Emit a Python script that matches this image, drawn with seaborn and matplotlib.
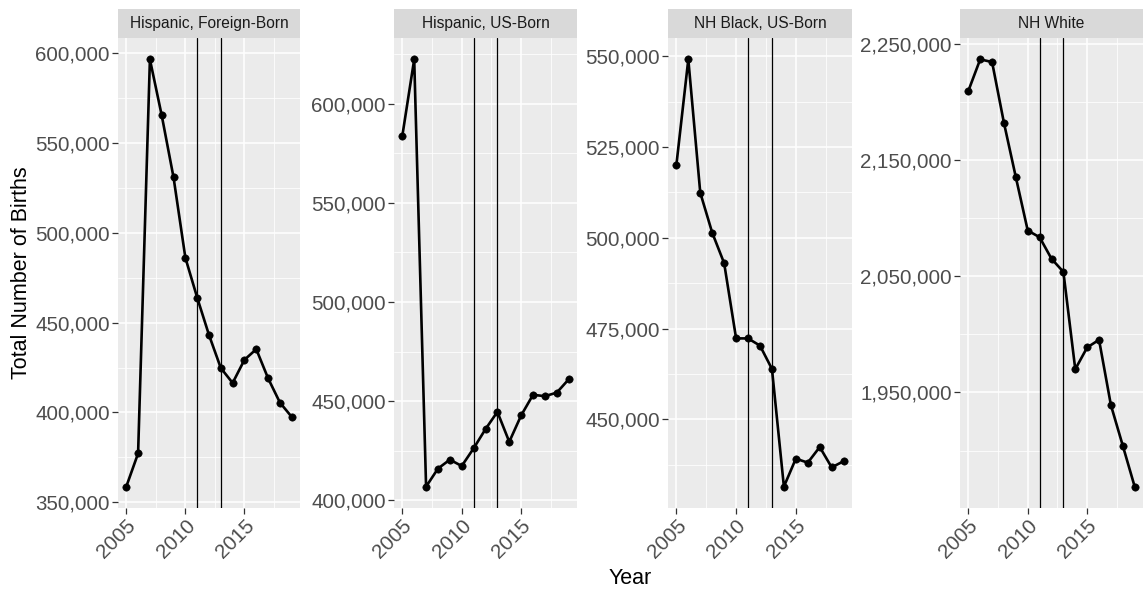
import matplotlib
matplotlib.use("Agg")
import matplotlib.pyplot as plt
from matplotlib.ticker import FuncFormatter, FixedLocator
import seaborn as sns
import pandas as pd

# Annual births by maternal race/ethnicity and nativity
years = list(range(2005, 2020))
hisp_foreign = [358700, 377200, 596500, 565300, 530800, 486100, 463900, 443100,
                424700, 416400, 429300, 435200, 419000, 405500, 397500]
hisp_us = [583700, 622300, 406900, 416000, 420500, 417300, 426200, 435900,
           444600, 429500, 442800, 453200, 452500, 454300, 461000]
nh_black = [520000, 549100, 512400, 501400, 493000, 472300, 472300, 470300,
            463900, 431500, 439200, 438100, 442400, 436800, 438500]
nh_white = [2209300, 2236500, 2234200, 2181800, 2135100, 2089300, 2083500, 2065000,
            2053700, 1970000, 1988700, 1995300, 1939100, 1904200, 1869000]

groups = ["Hispanic, Foreign-Born", "Hispanic, US-Born", "NH Black, US-Born", "NH White"]
series = [hisp_foreign, hisp_us, nh_black, nh_white]

# y-axis breaks for each facet (free scales)
ybreaks = [
    [350000, 400000, 450000, 500000, 550000, 600000],
    [400000, 450000, 500000, 550000, 600000],
    [450000, 475000, 500000, 525000, 550000],
    [1950000, 2050000, 2150000, 2250000],
]
xbreaks = [2005, 2010, 2015]
policy_years = [2011, 2013]

df = pd.DataFrame({
    "Year": years * len(groups),
    "Births": sum(series, []),
    "Group": [g for g in groups for _ in years],
})

sns.set_theme(style="darkgrid")
plt.rcParams["font.family"] = ["Liberation Sans", "DejaVu Sans"]

W, H = 1143, 590
fig = plt.figure(figsize=(W / 100, H / 100), dpi=100)

panel_lr = [(118, 300), (394, 577), (668, 852), (960, 1143)]
p_top, p_bot = 38, 508
strip_top = 9

def expand(lo, hi, f=0.05):
    r = hi - lo
    return lo - f * r, hi + f * r

def midpoints(br, lo, hi):
    step = br[1] - br[0]
    pts = []
    v = br[0] - step / 2
    while v <= hi:
        if v >= lo:
            pts.append(v)
        v += step
    return pts

for (l, r), g, br in zip(panel_lr, groups, ybreaks):
    ax = fig.add_axes([l / W, (H - p_bot) / H, (r - l) / W, (p_bot - p_top) / H])
    ax.set_facecolor("#EBEBEB")
    sub = df[df["Group"] == g]
    for xv in policy_years:
        ax.axvline(xv, color="black", lw=0.9, zorder=3)
    sns.lineplot(data=sub, x="Year", y="Births", ax=ax, color="black",
                 linewidth=1.9, zorder=4)
    sns.scatterplot(data=sub, x="Year", y="Births", ax=ax, color="black",
                    edgecolor="black", s=28, zorder=5)

    xlo, xhi = expand(min(years), max(years))
    ylo, yhi = expand(sub["Births"].min(), sub["Births"].max())
    ax.set_xlim(xlo, xhi)
    ax.set_ylim(ylo, yhi)

    ax.yaxis.set_major_locator(FixedLocator(br))
    ax.yaxis.set_minor_locator(FixedLocator(midpoints(br, ylo, yhi)))
    ax.xaxis.set_major_locator(FixedLocator(xbreaks))
    ax.xaxis.set_minor_locator(FixedLocator(midpoints(xbreaks, xlo, xhi)))
    ax.yaxis.set_major_formatter(FuncFormatter(lambda v, _: f"{v:,.0f}"))

    ax.grid(which="major", color="white", linewidth=1.1)
    ax.grid(which="minor", color="white", linewidth=0.55)
    for s in ax.spines.values():
        s.set_visible(False)
    ax.tick_params(which="major", length=4, width=0.9, color="#333333",
                   labelsize=14.8, labelcolor="#4D4D4D", pad=2)
    ax.tick_params(which="minor", length=0)
    ax.tick_params(axis="both", which="major", bottom=True, left=True)
    for lab in ax.get_xticklabels():
        lab.set_rotation(45)
        lab.set_ha("right")
        lab.set_rotation_mode("anchor")
    ax.set_xlabel("")
    ax.set_ylabel("")

    # facet strip
    sax = fig.add_axes([l / W, (H - p_top) / H, (r - l) / W, (p_top - strip_top) / H])
    sax.set_facecolor("#D9D9D9")
    sax.set_xticks([])
    sax.set_yticks([])
    for s in sax.spines.values():
        s.set_visible(False)
    sax.text(0.5, 0.5, g, ha="center", va="center", fontsize=11.2,
             color="#1A1A1A", transform=sax.transAxes)

fig.text(22 / W, 1 - 273 / H, "Total Number of Births", rotation=90,
         ha="center", va="center", fontsize=15.5, color="black")
fig.text(630 / W, 1 - 578 / H, "Year", ha="center", va="center",
         fontsize=15.5, color="black")

fig.savefig("out.png", dpi=100, facecolor="white")
